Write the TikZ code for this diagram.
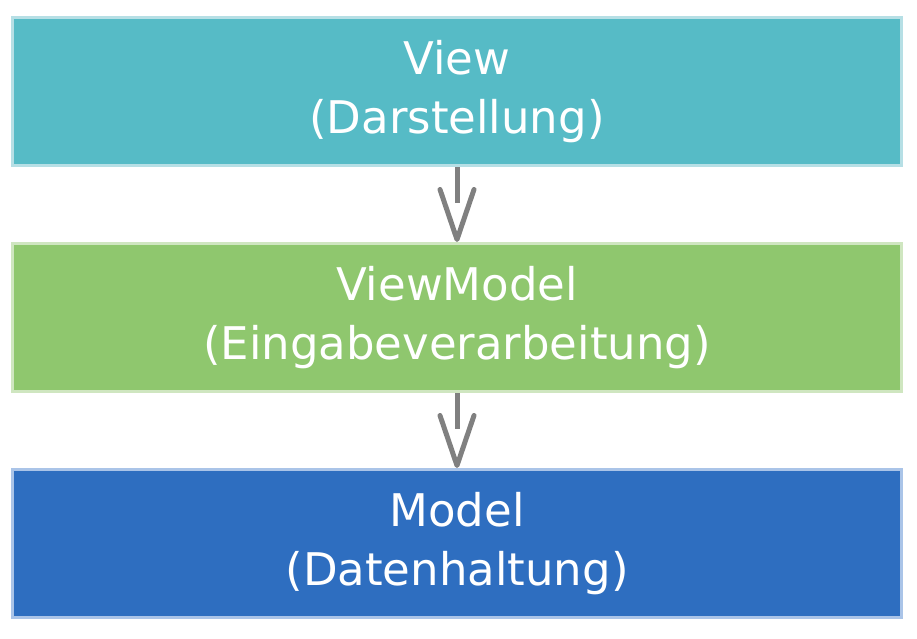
\documentclass[tikz,border=0pt]{standalone}
\usepackage{fontspec}
\setmainfont{DejaVu Sans}
\usetikzlibrary{arrows.meta}
\definecolor{viewfill}{RGB}{86,187,198}
\definecolor{viewline}{RGB}{182,223,229}
\definecolor{vmfill}{RGB}{143,199,110}
\definecolor{vmline}{RGB}{207,230,192}
\definecolor{mfill}{RGB}{46,110,192}
\definecolor{mline}{RGB}{170,196,232}
\definecolor{conncol}{RGB}{128,128,128}
\tikzset{
  layerbox/.style={rectangle, line width=3pt, minimum width=889pt, minimum height=148pt,
    inner sep=0pt, align=center, text=white, font=\fontsize{45}{59}\selectfont},
  dep/.style={draw=conncol, line width=5pt, dash pattern=on 36pt off 300pt,
    -{Straight Barb[length=50pt, width=34pt, round]}}
}
\begin{document}
\begin{tikzpicture}[x=1pt,y=1pt]
\useasboundingbox (0,0) rectangle (917,-638);
\node[layerbox, fill=viewfill, draw=viewline] (view) at (457,-91.5) {View\\(Darstellung)};
\node[layerbox, fill=vmfill, draw=vmline] (vm) at (457,-317.5) {ViewModel\\(Eingabeverarbeitung)};
\node[layerbox, fill=mfill, draw=mline] (model) at (457,-543.5) {Model\\(Datenhaltung)};
\draw[dep] (view.south) -- (vm.north);
\draw[dep] (vm.south) -- (model.north);
\end{tikzpicture}
\end{document}
